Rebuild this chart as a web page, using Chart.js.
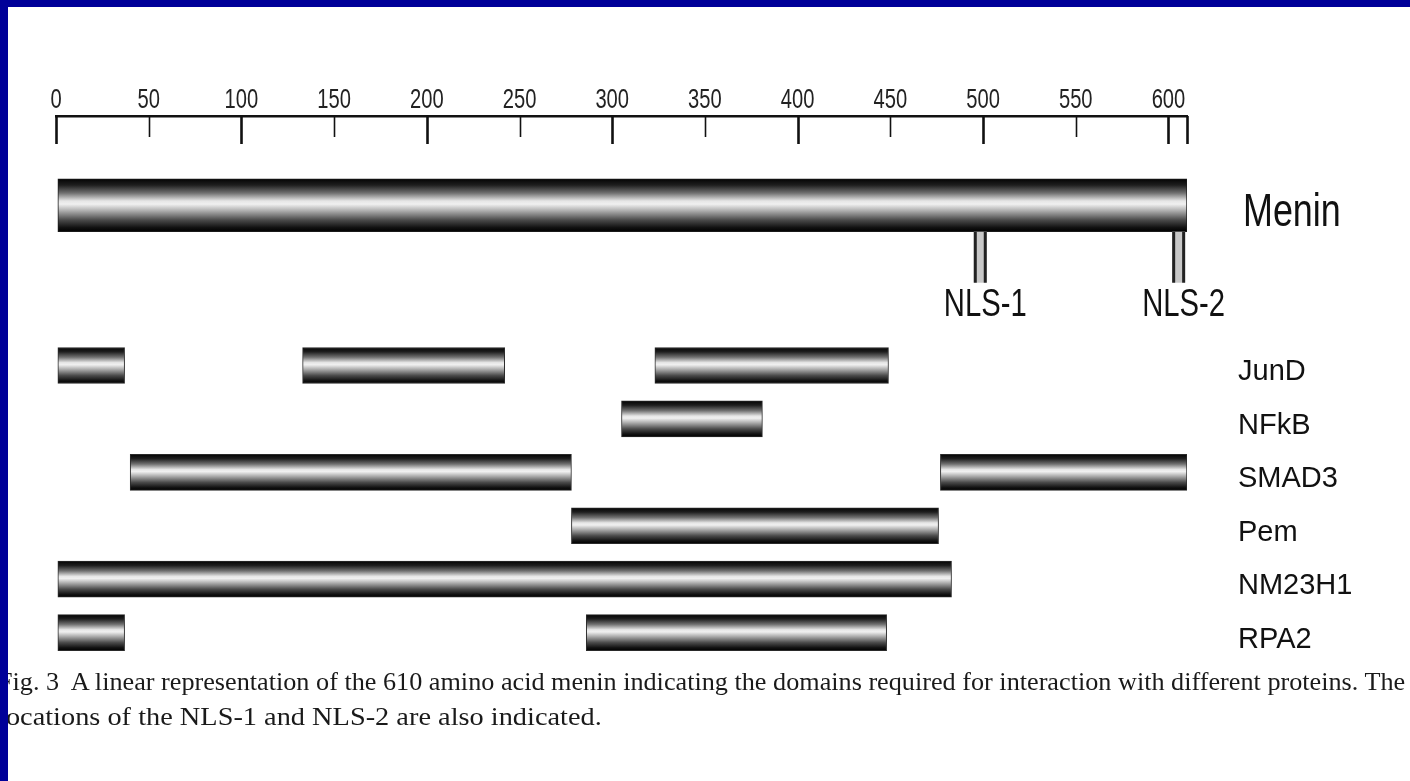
<!DOCTYPE html>
<html>
<head>
<meta charset="utf-8">
<script src="https://cdn.jsdelivr.net/npm/chart.js@4.4.0/dist/chart.umd.min.js"></script>
<style>
html, body { margin: 0; padding: 0; background: #fff; overflow: hidden; }
#wrap { position: relative; width: 1410px; height: 781px; background: #fff; }
#chart { position: absolute; left: 0; top: 0; }
.band { position: absolute; background: #000099; z-index: 3; }
.caption { position: absolute; left: -2px; font-family: "Liberation Serif", "Times New Roman", serif;
  font-size: 26px; color: #1a1a1a; white-space: pre; transform-origin: 0 0; z-index: 2; }
</style>
</head>
<body>
<div id="wrap">
  <canvas id="chart" width="1410" height="781"></canvas>
  <div class="caption" id="cap1" style="top:667px">Fig. 3  A linear representation of the 610 amino acid menin indicating the domains required for interaction with different proteins. The</div>
  <div class="caption" id="cap2" style="top:702px">locations of the NLS-1 and NLS-2 are also indicated.</div>
  <div class="band" style="left:0;top:0;width:1410px;height:7px"></div>
  <div class="band" style="left:0;top:0;width:8px;height:781px"></div>
</div>
<script>
// protein rows, top to bottom
const proteins = ['Menin', 'JunD', 'NFkB', 'SMAD3', 'Pem', 'NM23H1', 'RPA2'];
const proteinLength = 610;
const menin = [1, 610];
// interaction domains (residues), one array per segment slot, rows JunD..RPA2
const domain1 = [[1, 37], [305, 381], [40, 278], [278, 476], [1, 483], [1, 37]];
const domain2 = [[133, 242], null, [477, 610], null, null, [286, 448]];
const domain3 = [[323, 449], null, null, null, null, null];
// nuclear localisation signals
const nlsNames = ['NLS-1', 'NLS-2'];
const nlsSpans = [[495, 502], [602, 609]];
const xTicks = [0, 50, 100, 150, 200, 250, 300, 350, 400, 450, 500, 550, 600];

const sans = '"Liberation Sans", Arial, Helvetica, sans-serif';

// two empty rows between menin and the partners
function rowOf(i) { return i === 0 ? 0 : i + 2; }

function tubeFill(thickness) {
  return function (c) {
    const chart = c.chart;
    const y = chart.scales && chart.scales.y;
    if (!c.raw || !y) return '#888';
    const mid = y.getPixelForValue(c.raw.y);
    if (!isFinite(mid)) return '#888';
    const g = chart.ctx.createLinearGradient(0, mid - thickness / 2, 0, mid + thickness / 2);
    g.addColorStop(0, '#030303');
    g.addColorStop(0.12, '#1e1e1e');
    g.addColorStop(0.27, '#707070');
    g.addColorStop(0.42, '#e6e6e6');
    g.addColorStop(0.48, '#f0f0f0');
    g.addColorStop(0.6, '#b0b0b0');
    g.addColorStop(0.78, '#4a4a4a');
    g.addColorStop(0.92, '#121212');
    g.addColorStop(1, '#000');
    return g;
  };
}

function domainData(list) {
  const out = [];
  list.forEach((span, i) => {
    if (span) out.push({ x: span, y: rowOf(i + 1) });
  });
  return out;
}

const barStyle = {
  borderWidth: 1,
  borderSkipped: false,
  barPercentage: 1,
  categoryPercentage: 1
};

const domainSets = [domain1, domain2, domain3].map((d, k) => Object.assign({
  label: 'domain ' + (k + 1),
  data: domainData(d),
  maxBarThickness: 36,
  backgroundColor: tubeFill(36),
  borderColor: '#2a2a2a'
}, barStyle));

// text in the figure is set in a condensed face; squeeze it horizontally
function squeezed(ctx, text, x, y, size, sx, align) {
  ctx.save();
  ctx.translate(x, y);
  ctx.scale(sx, 1);
  ctx.font = size + 'px ' + sans;
  ctx.textAlign = align;
  ctx.textBaseline = 'alphabetic';
  ctx.fillText(text, 0, 0);
  ctx.restore();
}

// ruler labels and hanging tick marks, the Menin label, the NLS markers
const rulerMarks = {
  id: 'rulerMarks',
  afterDatasetsDraw(chart) {
    const { ctx, chartArea, scales: { x, y } } = chart;
    ctx.save();
    ctx.strokeStyle = '#111';
    xTicks.concat([proteinLength]).forEach(v => {
      const major = v % 100 === 0 || v === proteinLength;
      const px = Math.round(x.getPixelForValue(v)) + 0.5;
      ctx.lineWidth = major ? 2.6 : 1.6;
      ctx.beginPath();
      ctx.moveTo(px, chartArea.top);
      ctx.lineTo(px, chartArea.top + (major ? 28 : 21));
      ctx.stroke();
    });
    ctx.fillStyle = '#222';
    x.ticks.forEach(t => {
      squeezed(ctx, String(t.value), x.getPixelForValue(t.value), chartArea.top - 8, 28, 0.72, 'center');
    });

    const meninMid = y.getPixelForValue(0);
    ctx.fillStyle = '#111';
    squeezed(ctx, proteins[0], chartArea.right + 56, meninMid + 21, 46, 0.78, 'left');

    const barBottom = meninMid + 53 / 2;
    nlsSpans.forEach((s, i) => {
      const x0 = x.getPixelForValue(s[0]);
      const x1 = x.getPixelForValue(s[1]);
      ctx.fillStyle = '#c8c8c8';
      ctx.fillRect(x0, barBottom, x1 - x0, 51);
      ctx.fillStyle = '#222';
      ctx.fillRect(x0, barBottom, 3, 51);
      ctx.fillRect(x1 - 3, barBottom, 3, 51);
      ctx.fillStyle = '#111';
      squeezed(ctx, nlsNames[i], (x0 + x1) / 2 + 5, barBottom + 84, 39, 0.75, 'center');
    });
    ctx.restore();
  }
};

new Chart(document.getElementById('chart'), {
  type: 'bar',
  data: {
    datasets: [Object.assign({
      label: 'Menin',
      data: [{ x: menin, y: 0 }],
      maxBarThickness: 53,
      backgroundColor: tubeFill(53),
      borderColor: '#1a1a1a'
    }, barStyle)].concat(domainSets)
  },
  options: {
    indexAxis: 'y',
    responsive: false,
    animation: false,
    grouped: false,
    layout: { padding: { left: 56, top: 0, right: 0, bottom: 95 } },
    plugins: { legend: { display: false }, tooltip: { enabled: false } },
    scales: {
      x: {
        type: 'linear',
        position: 'top',
        min: 0,
        max: proteinLength,
        afterBuildTicks: s => { s.ticks = xTicks.map(v => ({ value: v })); },
        afterFit: s => { s.height = 116; },
        grid: { display: false, drawTicks: false },
        border: { display: true, color: '#111', width: 2.6 },
        ticks: { display: false }
      },
      y: {
        type: 'linear',
        position: 'right',
        reverse: true,
        offset: false,
        min: -1.67,
        max: 9,
        afterBuildTicks: s => { s.ticks = proteins.map((p, i) => ({ value: rowOf(i) })); },
        afterFit: s => { s.width = 223; },
        grid: { display: false, drawTicks: false },
        border: { display: false },
        ticks: {
          color: '#111',
          padding: 51,
          labelOffset: 7,
          autoSkip: false,
          // Menin is drawn larger by the plugin
          callback: v => v === 0 ? '' : proteins[proteins.findIndex((p, i) => rowOf(i) === v)],
          font: { family: sans, size: 29 }
        }
      }
    }
  },
  plugins: [rulerMarks]
});

// caption: squeeze each line to the width it has in the figure
const cap1 = document.getElementById('cap1');
const cap2 = document.getElementById('cap2');
cap1.style.transform = 'scaleX(' + (1407 / cap1.offsetWidth) + ')';
cap2.style.transform = 'scaleX(' + (604 / cap2.offsetWidth) + ')';
</script>
</body>
</html>
